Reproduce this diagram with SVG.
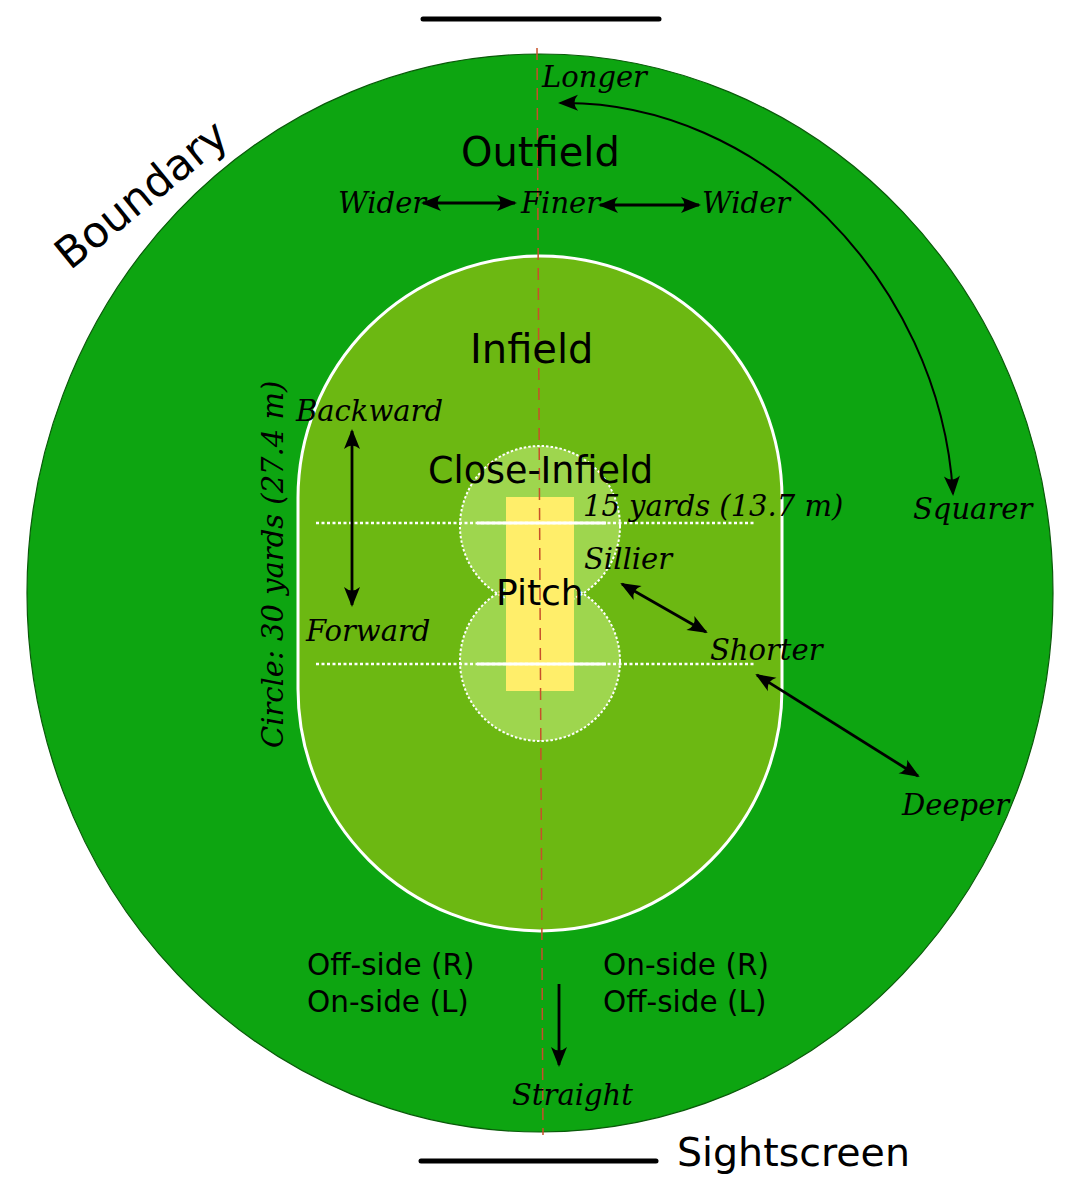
<svg xmlns="http://www.w3.org/2000/svg" width="1080" height="1188" viewBox="0 0 1080 1188">
<defs>
<style>
.sans{font-family:"DejaVu Sans","Liberation Sans",sans-serif;fill:#000}
.ital{font-family:"DejaVu Serif","Liberation Serif",serif;font-style:italic;fill:#000;font-size:29px}
.arrow{fill:none;stroke:#000;stroke-width:2.8;marker-end:url(#ah);marker-start:url(#ah)}
.thin{stroke-width:2}
.dots{fill:none;stroke:#fff;stroke-width:2.5;stroke-dasharray:3 2.5}
.crease{stroke:#fff;stroke-width:3}
.screen{stroke:#000;stroke-width:5;stroke-linecap:round}
</style>
<marker id="ah" markerUnits="userSpaceOnUse" viewBox="-22 -9 24 18" refX="-2" refY="0" markerWidth="24" markerHeight="18" orient="auto-start-reverse">
<path d="M0,0 L-20,-8 Q-13,0 -20,8 Z" fill="#000"/>
</marker>
</defs>
<rect width="1080" height="1188" fill="#fff"/>

<g id="outfield">
<ellipse cx="540" cy="593" rx="513" ry="539" fill="#0da511" stroke="#0a5a0a" stroke-width="1.2"/>
</g>
<g id="infield">
<path d="M298,498 A242,242 0 0 1 782,498 L782,689 A242,242 0 0 1 298,689 Z" fill="#6cb812" stroke="#fff" stroke-width="3"/>
</g>
<g id="close-infield">
<circle cx="540" cy="526" r="80" fill="#9ed64e"/>
<circle cx="540" cy="661" r="80" fill="#9ed64e"/>
<circle cx="540" cy="526" r="80" fill="none" stroke="#fff" stroke-width="2" stroke-dasharray="2.5 2"/>
<circle cx="540" cy="661" r="80" fill="none" stroke="#fff" stroke-width="2" stroke-dasharray="2.5 2"/>
</g>
<g id="pitch">
<rect x="506" y="497" width="68" height="194" fill="#ffee6a"/>
</g>
<g id="lines">
<line class="dots" x1="316" y1="523" x2="755" y2="523"/>
<line class="dots" x1="316" y1="664" x2="755" y2="664"/>
<line class="crease" x1="477" y1="523" x2="606" y2="523"/>
<line class="crease" x1="477" y1="664" x2="606" y2="664"/>
<line x1="537" y1="48" x2="543" y2="1135" stroke="#c8502a" stroke-width="1.5" stroke-dasharray="12 8"/>
</g>
<g id="sightscreens">
<line class="screen" x1="423" y1="19" x2="659" y2="19"/>
<line class="screen" x1="421" y1="1161" x2="656" y2="1161"/>
</g>

<g id="connectors">
<line class="arrow" x1="423" y1="203" x2="515" y2="203"/>
<line class="arrow" x1="600" y1="205" x2="699" y2="205"/>
<path class="arrow thin" d="M560,103 C760,100 940,280 953,494"/>
<line class="arrow" x1="352" y1="431" x2="352" y2="605"/>
<line class="arrow" x1="622" y1="584" x2="706" y2="632"/>
<line class="arrow" x1="757" y1="675" x2="918" y2="776"/>
<line x1="559" y1="984" x2="559" y2="1065" stroke="#000" stroke-width="2.8" marker-end="url(#ah)"/>
</g>

<g id="labels">
<text class="sans" x="70" y="271" font-size="43" transform="rotate(-39 70 271)">Boundary</text>
<text class="ital" x="542" y="87">Longer</text>
<text class="sans" x="461" y="166" font-size="40">Outfield</text>
<text class="ital" x="338" y="213">Wider</text>
<text class="ital" x="521" y="213">Finer</text>
<text class="ital" x="702" y="213">Wider</text>
<text class="sans" x="470" y="363" font-size="40">Infield</text>
<text class="ital" x="296" y="421">Backward</text>
<text class="ital" x="306" y="641">Forward</text>
<text class="sans" x="428" y="483" font-size="36.5">Close-Infield</text>
<text class="ital" x="583" y="516">15 yards (13.7 m)</text>
<text class="ital" x="584" y="569">Sillier</text>
<text class="sans" x="496" y="605" font-size="36">Pitch</text>
<text class="ital" x="710" y="660">Shorter</text>
<text class="ital" x="902" y="815">Deeper</text>
<text class="ital" x="913" y="519">Squarer</text>
<text class="ital" x="283" y="748" transform="rotate(-90 283 748)">Circle: 30 yards (27.4 m)</text>
<text class="sans" x="307" y="975" font-size="29.5">Off-side (R)</text>
<text class="sans" x="307" y="1012" font-size="29.5">On-side (L)</text>
<text class="sans" x="603" y="975" font-size="29.5">On-side (R)</text>
<text class="sans" x="603" y="1012" font-size="29.5">Off-side (L)</text>
<text class="ital" x="512" y="1105">Straight</text>
<text class="sans" x="677" y="1166" font-size="39.5">Sightscreen</text>
</g>
</svg>
